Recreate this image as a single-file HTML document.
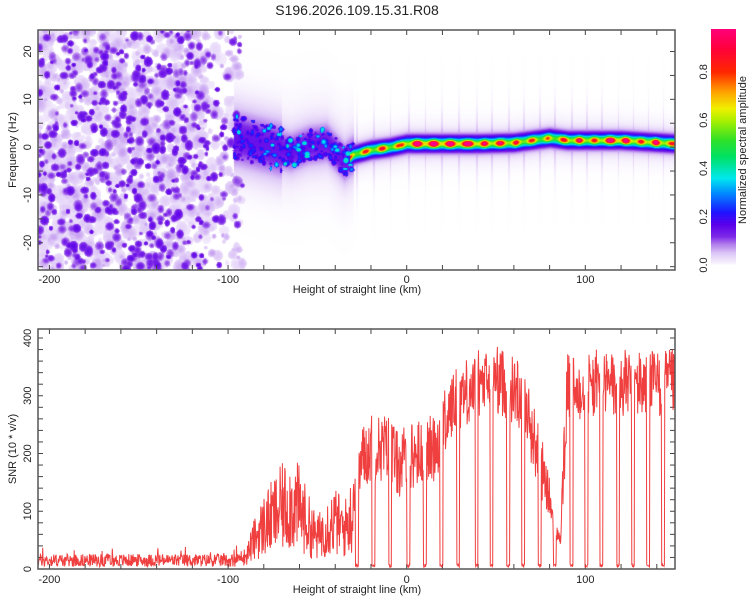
<!DOCTYPE html>
<html><head><meta charset="utf-8">
<style>
html,body{margin:0;padding:0;background:#fff;}
#wrap{position:relative;width:750px;height:600px;overflow:hidden;font-family:"Liberation Sans",sans-serif;}
svg text{font-family:"Liberation Sans",sans-serif;fill:#222;}
#spec{position:absolute;left:38px;top:30px;}
#cbar{position:absolute;left:711px;top:29px;}
</style></head>
<body>
<div id="wrap">
<canvas id="spec" width="637" height="240"></canvas>
<canvas id="cbar" width="25" height="241"></canvas>
<svg id="svg" width="750" height="600" style="position:absolute;left:0;top:0">
<text x="357" y="15" font-size="14" text-anchor="middle">S196.2026.109.15.31.R08</text>
<g id="topAxes"></g>
<g id="botAxes"></g>
<path id="snrLine" fill="none" stroke="#ee2a2a" stroke-width="1" stroke-opacity="0.9"></path>
<rect x="38" y="30" width="637" height="240" fill="none" stroke="#555" stroke-width="1.5"></rect>
<rect x="38" y="329" width="637" height="240" fill="none" stroke="#555" stroke-width="1.5"></rect>
<text x="357" y="293" font-size="11" text-anchor="middle">Height of straight line (km)</text>
<text x="357" y="593" font-size="11" text-anchor="middle">Height of straight line (km)</text>
<text transform="translate(16,150) rotate(-90)" font-size="11" text-anchor="middle">Frequency (Hz)</text>
<text transform="translate(16,449) rotate(-90)" font-size="11" text-anchor="middle">SNR (10 * v/v)</text>
<text transform="translate(746,150) rotate(-90)" font-size="11" text-anchor="middle">Normalized spectral amplitude</text>
<g id="cbTicks"></g>
</svg>
</div>
<script>
// ---- data ----
const xTicks=[-200,-100,0,100];
const freqTicks=[-20,-10,0,10,20];
const snrTicks=[0,100,200,300,400];
const cbTicks=[0.0,0.2,0.4,0.6,0.8];
const envKm=[-206,-95,-90,-85,-80,-75,-70,-65,-60,-55,-50,-45,-40,-35,-30,-25,-20,-15,-10,-5,0,5,10,15,20,25,30,35,40,45,50,55,60,65,70,75,80,83,86,88,90,95,100,110,120,130,140,150];
const envVal=[15,15,30,70,100,120,140,150,140,100,70,100,110,90,130,190,210,210,210,180,190,200,200,210,240,280,300,310,320,320,330,320,310,300,240,180,120,70,50,180,320,310,320,320,320,320,320,320];
const dipKm=[-27.9,-18.6,-9.3,0.9,10.2,19.5,28.8,39.1,47.5,56.8,65.2,74.5,82.9,92.2,100.6,109,118.3,126.7,135.1,143.5];
const ridgeKm=[-95,-85,-75,-65,-55,-45,-40,-35,-30,-25,-20,-10,0,20,40,60,80,90,100,120,150];
const ridgeFreq=[2,1,0,-1,0.5,1,-1,-3,-1.5,-1,-0.5,0,0.8,0.8,0.8,1,2,1.5,1.5,1.5,0.8];
const segKm=[-23,-14,-4,5.5,15,24,34,43,52,61,70,79,88,96,105,114,122,131,139,147];
const segAmp=[0.55,0.6,0.5,0.9,0.85,0.85,0.8,0.75,0.7,0.65,0.55,0.5,0.6,0.75,0.6,0.85,0.85,0.6,0.85,0.55];

// ---- scales ----
const X0=38,PW=637,KMIN=-206.4,KMAX=150.2;
const xS=k=>X0+(k-KMIN)*PW/(KMAX-KMIN);
const fS=f=>30+(24.5-f)*240/50.2;
const sS=v=>569-v*231/400;
function interp(xs,ys,x){if(x<=xs[0])return ys[0];for(let i=1;i<xs.length;i++){if(x<=xs[i]){const t=(x-xs[i-1])/(xs[i]-xs[i-1]);return ys[i-1]+t*(ys[i]-ys[i-1]);}}return ys[ys.length-1];}
let seed=12345;function rnd(){seed=(seed*1103515245+12345)&0x7fffffff;return seed/0x7fffffff;}

// ---- colormap ----
const stops=[[0,[255,255,255]],[0.015,[244,236,252]],[0.05,[222,200,247]],[0.09,[175,120,236]],[0.12,[125,40,232]],[0.17,[90,0,235]],[0.22,[30,20,255]],[0.3,[0,140,255]],[0.36,[0,232,240]],[0.45,[0,225,100]],[0.52,[50,225,40]],[0.6,[170,240,0]],[0.65,[240,240,0]],[0.72,[255,160,0]],[0.8,[255,40,0]],[0.9,[255,0,60]],[1.0,[255,0,140]]];
function cmap(v){v=Math.max(0,Math.min(1,v));for(let i=1;i<stops.length;i++){if(v<=stops[i][0]){const a=stops[i-1],b=stops[i];const t=(v-a[0])/(b[0]-a[0]);return [0,1,2].map(j=>Math.round(a[1][j]+t*(b[1][j]-a[1][j])));}}return stops[stops.length-1][1];}

// ---- spectrogram ----
(function(){
const W=637,H=240;const F=new Float32Array(W*H);
function blob(cx,cy,rx,ry,v){for(let y=Math.max(0,Math.floor(cy-ry));y<Math.min(H,Math.ceil(cy+ry));y++)for(let x=Math.max(0,Math.floor(cx-rx));x<Math.min(W,Math.ceil(cx+rx));x++){const d=((x-cx)/rx)**2+((y-cy)/ry)**2;if(d<1){const val=v*Math.sqrt(1-d*0.7);const i=y*W+x;if(val>F[i])F[i]=val;}}}
// background noise texture (left region)
const xe=xS(-92)-X0;
for(let n=0;n<1900;n++){let x=rnd()*xe;if(x>xe-35&&rnd()<0.6)continue;const y=rnd()*H;const dark=rnd()<0.3;const r=dark?2+rnd()*2.8:2+rnd()*4.5;blob(x,y,r,r*(0.8+rnd()*0.5),dark?0.105+rnd()*0.06:0.02+rnd()*0.05);}
// chaotic band -95..-30 haze
for(let x=0;x<W;x++){const k=KMIN+x*(KMAX-KMIN)/W;if(k<-97||k>-30)continue;const fc=interp(ridgeKm,ridgeFreq,k);const sp=k<-70?4:2.8;
 for(let y=0;y<H;y++){const f=24.5-y*50.2/240;const d=f-fc;const v=0.13*Math.exp(-d*d/(2*sp*sp))+0.02*Math.exp(-d*d/(2*7*7));const i=y*W+x;if(v>F[i])F[i]=v;}}
for(let n=0;n<320;n++){const k=-97+rnd()*67;const fc=interp(ridgeKm,ridgeFreq,k);const spread=k<-70?4.5:3;const f=fc+(rnd()-0.5)*2*spread;const v=(rnd()<0.12?0.3:0.14)+rnd()*0.12;blob(xS(k)-X0,fS(f)-30,1.3+rnd()*2,1.3+rnd()*2,v);}
// ridge
for(let x=0;x<W;x++){const k=KMIN+x*(KMAX-KMIN)/W;if(k<-32)continue;const fc=interp(ridgeKm,ridgeFreq,k);
 let A=interp(segKm,segAmp,k);let dd=99;for(const d of dipKm)dd=Math.min(dd,Math.abs(k-d));
 const shape=Math.min(1,dd/4.5);const s=Math.sin(shape*Math.PI/2);A=A*(0.4+0.6*s*s*s);
 for(let y=0;y<H;y++){const f=24.5-y*50.2/240;const d=f-fc;let v=A*Math.exp(-d*d/(2*0.55*0.55))+0.3*Math.exp(-d*d/(2*1.2*1.2))+0.025*Math.exp(-d*d/(2*3*3));
  if(dd<0.5)v=Math.max(v,0.15*Math.exp(-Math.abs(d)/3));const i=y*W+x;if(v>F[i])F[i]=v;}}
const c=document.getElementById('spec').getContext('2d');const img=c.createImageData(W,H);
for(let i=0;i<W*H;i++){const col=cmap(F[i]);img.data[i*4]=col[0];img.data[i*4+1]=col[1];img.data[i*4+2]=col[2];img.data[i*4+3]=255;}
c.putImageData(img,0,0);
// colorbar
const cb=document.getElementById('cbar').getContext('2d');const ci=cb.createImageData(25,241);
for(let y=0;y<241;y++){const v=(265-(29+y))/241.5;const col=cmap(v);for(let x=0;x<25;x++){const i=(y*25+x)*4;ci.data[i]=col[0];ci.data[i+1]=col[1];ci.data[i+2]=col[2];ci.data[i+3]=255;}}
cb.putImageData(ci,0,0);
})();

// ---- SNR line ----
(function(){
let d='';seed=777;
for(let k=KMIN;k<=KMAX;k+=0.22){let env=interp(envKm,envVal,k);let v;
 if(k<-92){v=env+(rnd()-0.5)*22;if(rnd()<0.03)v+=15;}
 else if(k<-30){v=env*(0.2+rnd()*1.1);}
 else{v=env+(rnd()-0.5)*2*Math.min(60,0.32*env);}
 for(const dp of dipKm){if(Math.abs(k-dp)<0.85){v=3+rnd()*6;}}
 v=Math.max(1,Math.min(414,v));
 d+=(d?'L':'M')+xS(k).toFixed(1)+','+sS(v).toFixed(1);}
document.getElementById('snrLine').setAttribute('d',d);
})();

// ---- axes ----
(function(){
const NS='http://www.w3.org/2000/svg';
function el(tag,attrs,parent){const e=document.createElementNS(NS,tag);for(const a in attrs)e.setAttribute(a,attrs[a]);parent.appendChild(e);return e;}
const top=document.getElementById('topAxes'),bot=document.getElementById('botAxes'),cbg=document.getElementById('cbTicks');
function xAxis(g,yt,yb,ly){
 for(let k=-200;k<=150;k+=20){const x=xS(k);if(x<X0||x>X0+PW)continue;
  el('line',{x1:x,y1:yt,x2:x,y2:yt+5,stroke:'#444'},g);el('line',{x1:x,y1:yb,x2:x,y2:yb-5,stroke:'#444'},g);}
 for(const k of xTicks){const t=el('text',{x:xS(k),y:ly,'font-size':11,'text-anchor':'middle'},g);
  
  
  t.textContent=String(k);}
}
xAxis(top,30,270,283);xAxis(bot,329,569,583);
for(let f=-25;f<=25;f+=5){const y=fS(f);if(y<30||y>270)continue;el('line',{x1:38,y1:y,x2:43,y2:y,stroke:'#444'},top);el('line',{x1:675,y1:y,x2:670,y2:y,stroke:'#444'},top);}
for(const f of freqTicks){const t=el('text',{transform:`translate(31,${fS(f)}) rotate(-90)`,'font-size':11,'text-anchor':'middle'},top);
 
 
 t.textContent=String(f);}
for(let s=0;s<=400;s+=20){const y=sS(s);el('line',{x1:38,y1:y,x2:43,y2:y,stroke:'#444'},bot);el('line',{x1:675,y1:y,x2:670,y2:y,stroke:'#444'},bot);}
for(const s of snrTicks){const t=el('text',{transform:`translate(31,${sS(s)}) rotate(-90)`,'font-size':11,'text-anchor':'middle'},bot);
 
 
 t.textContent=String(s);}
for(const v of cbTicks){const y=265-v*241.5;const t=el('text',{transform:`translate(707,${y}) rotate(-90)`,'font-size':11,'text-anchor':'middle'},cbg);
 
 
 t.textContent=v.toFixed(1);}
})();
</script>
</body></html>
